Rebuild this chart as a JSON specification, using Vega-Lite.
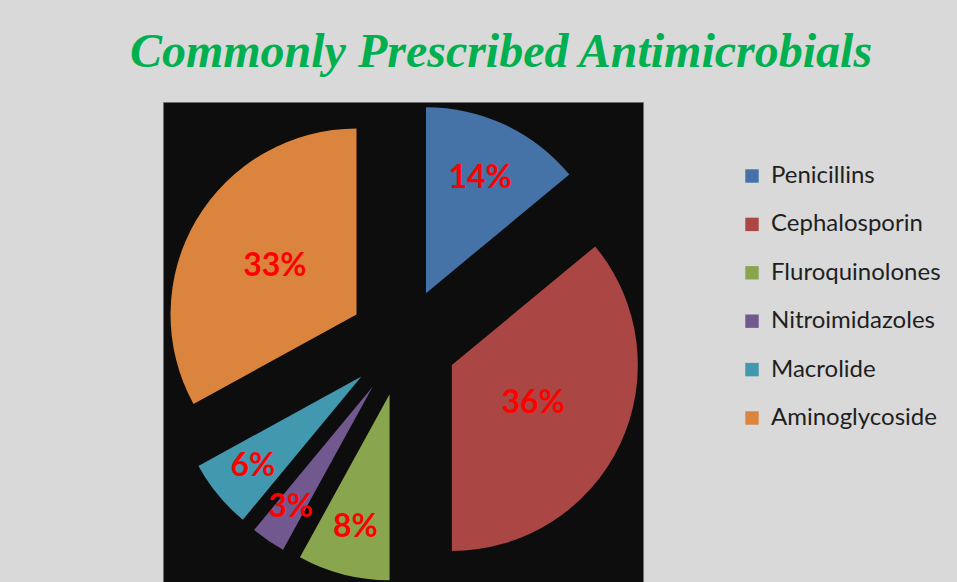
{
  "$schema": "https://vega.github.io/schema/vega-lite/v6.json",
  "width": 480,
  "height": 480,
  "autosize": {"type": "none"},
  "padding": {"left": 163, "top": 102, "right": 314, "bottom": 0},
  "background": "#d9d9d9",
  "view": {"fill": "#0d0d0d", "stroke": "#6f6f6f", "strokeWidth": 1},
  "title": {
    "text": "Commonly Prescribed Antimicrobials",
    "font": "Liberation Serif",
    "fontSize": 48,
    "fontStyle": "italic",
    "fontWeight": "bold",
    "color": "#00b050",
    "anchor": "middle",
    "dx": 98,
    "offset": 25
  },
  "data": {
    "values": [
      {"name": "Penicillins", "share": 0.14},
      {"name": "Cephalosporin", "share": 0.36},
      {"name": "Fluroquinolones", "share": 0.08},
      {"name": "Nitroimidazoles", "share": 0.03},
      {"name": "Macrolide", "share": 0.06},
      {"name": "Aminoglycoside", "share": 0.33}
    ]
  },
  "transform": [
    {"stack": "share", "groupby": [], "as": ["v0", "v1"]}
  ],
  "layer": [
    {
      "mark": {
        "type": "arc",
        "outerRadius": 186,
        "xOffset": {"expr": "54*sin(PI*(datum.v0+datum.v1))"},
        "yOffset": {"expr": "-54*cos(PI*(datum.v0+datum.v1))"}
      },
      "encoding": {
        "theta": {"field": "v0", "type": "quantitative", "stack": null, "scale": {"domain": [0, 1]}},
        "theta2": {"field": "v1"},
        "color": {
          "field": "name",
          "type": "nominal",
          "scale": {
            "domain": ["Penicillins", "Cephalosporin", "Fluroquinolones", "Nitroimidazoles", "Macrolide", "Aminoglycoside"],
            "range": ["#4572a7", "#aa4643", "#89a54e", "#71588f", "#4198af", "#db843d"]
          },
          "legend": {
            "title": null,
            "orient": "none",
            "legendX": 577,
            "legendY": 62,
            "symbolType": "square",
            "symbolSize": 180,
            "symbolStrokeWidth": 0,
            "labelFont": "Lato",
            "labelFontSize": 24,
            "labelColor": "#1f1f1f",
            "labelOffset": 7,
            "rowPadding": 24.4,
            "labelLimit": 300
          }
        }
      }
    },
    {
      "mark": {
        "type": "text",
        "font": "Lato",
        "fontSize": 32,
        "fontWeight": "bold",
        "color": "#ff0000",
        "xOffset": {"expr": "(205-170*datum.share)*sin(PI*(datum.v0+datum.v1))"},
        "yOffset": {"expr": "-(205-170*datum.share)*cos(PI*(datum.v0+datum.v1))"}
      },
      "encoding": {
        "text": {"field": "share", "type": "quantitative", "format": ".0%"}
      }
    }
  ]
}
